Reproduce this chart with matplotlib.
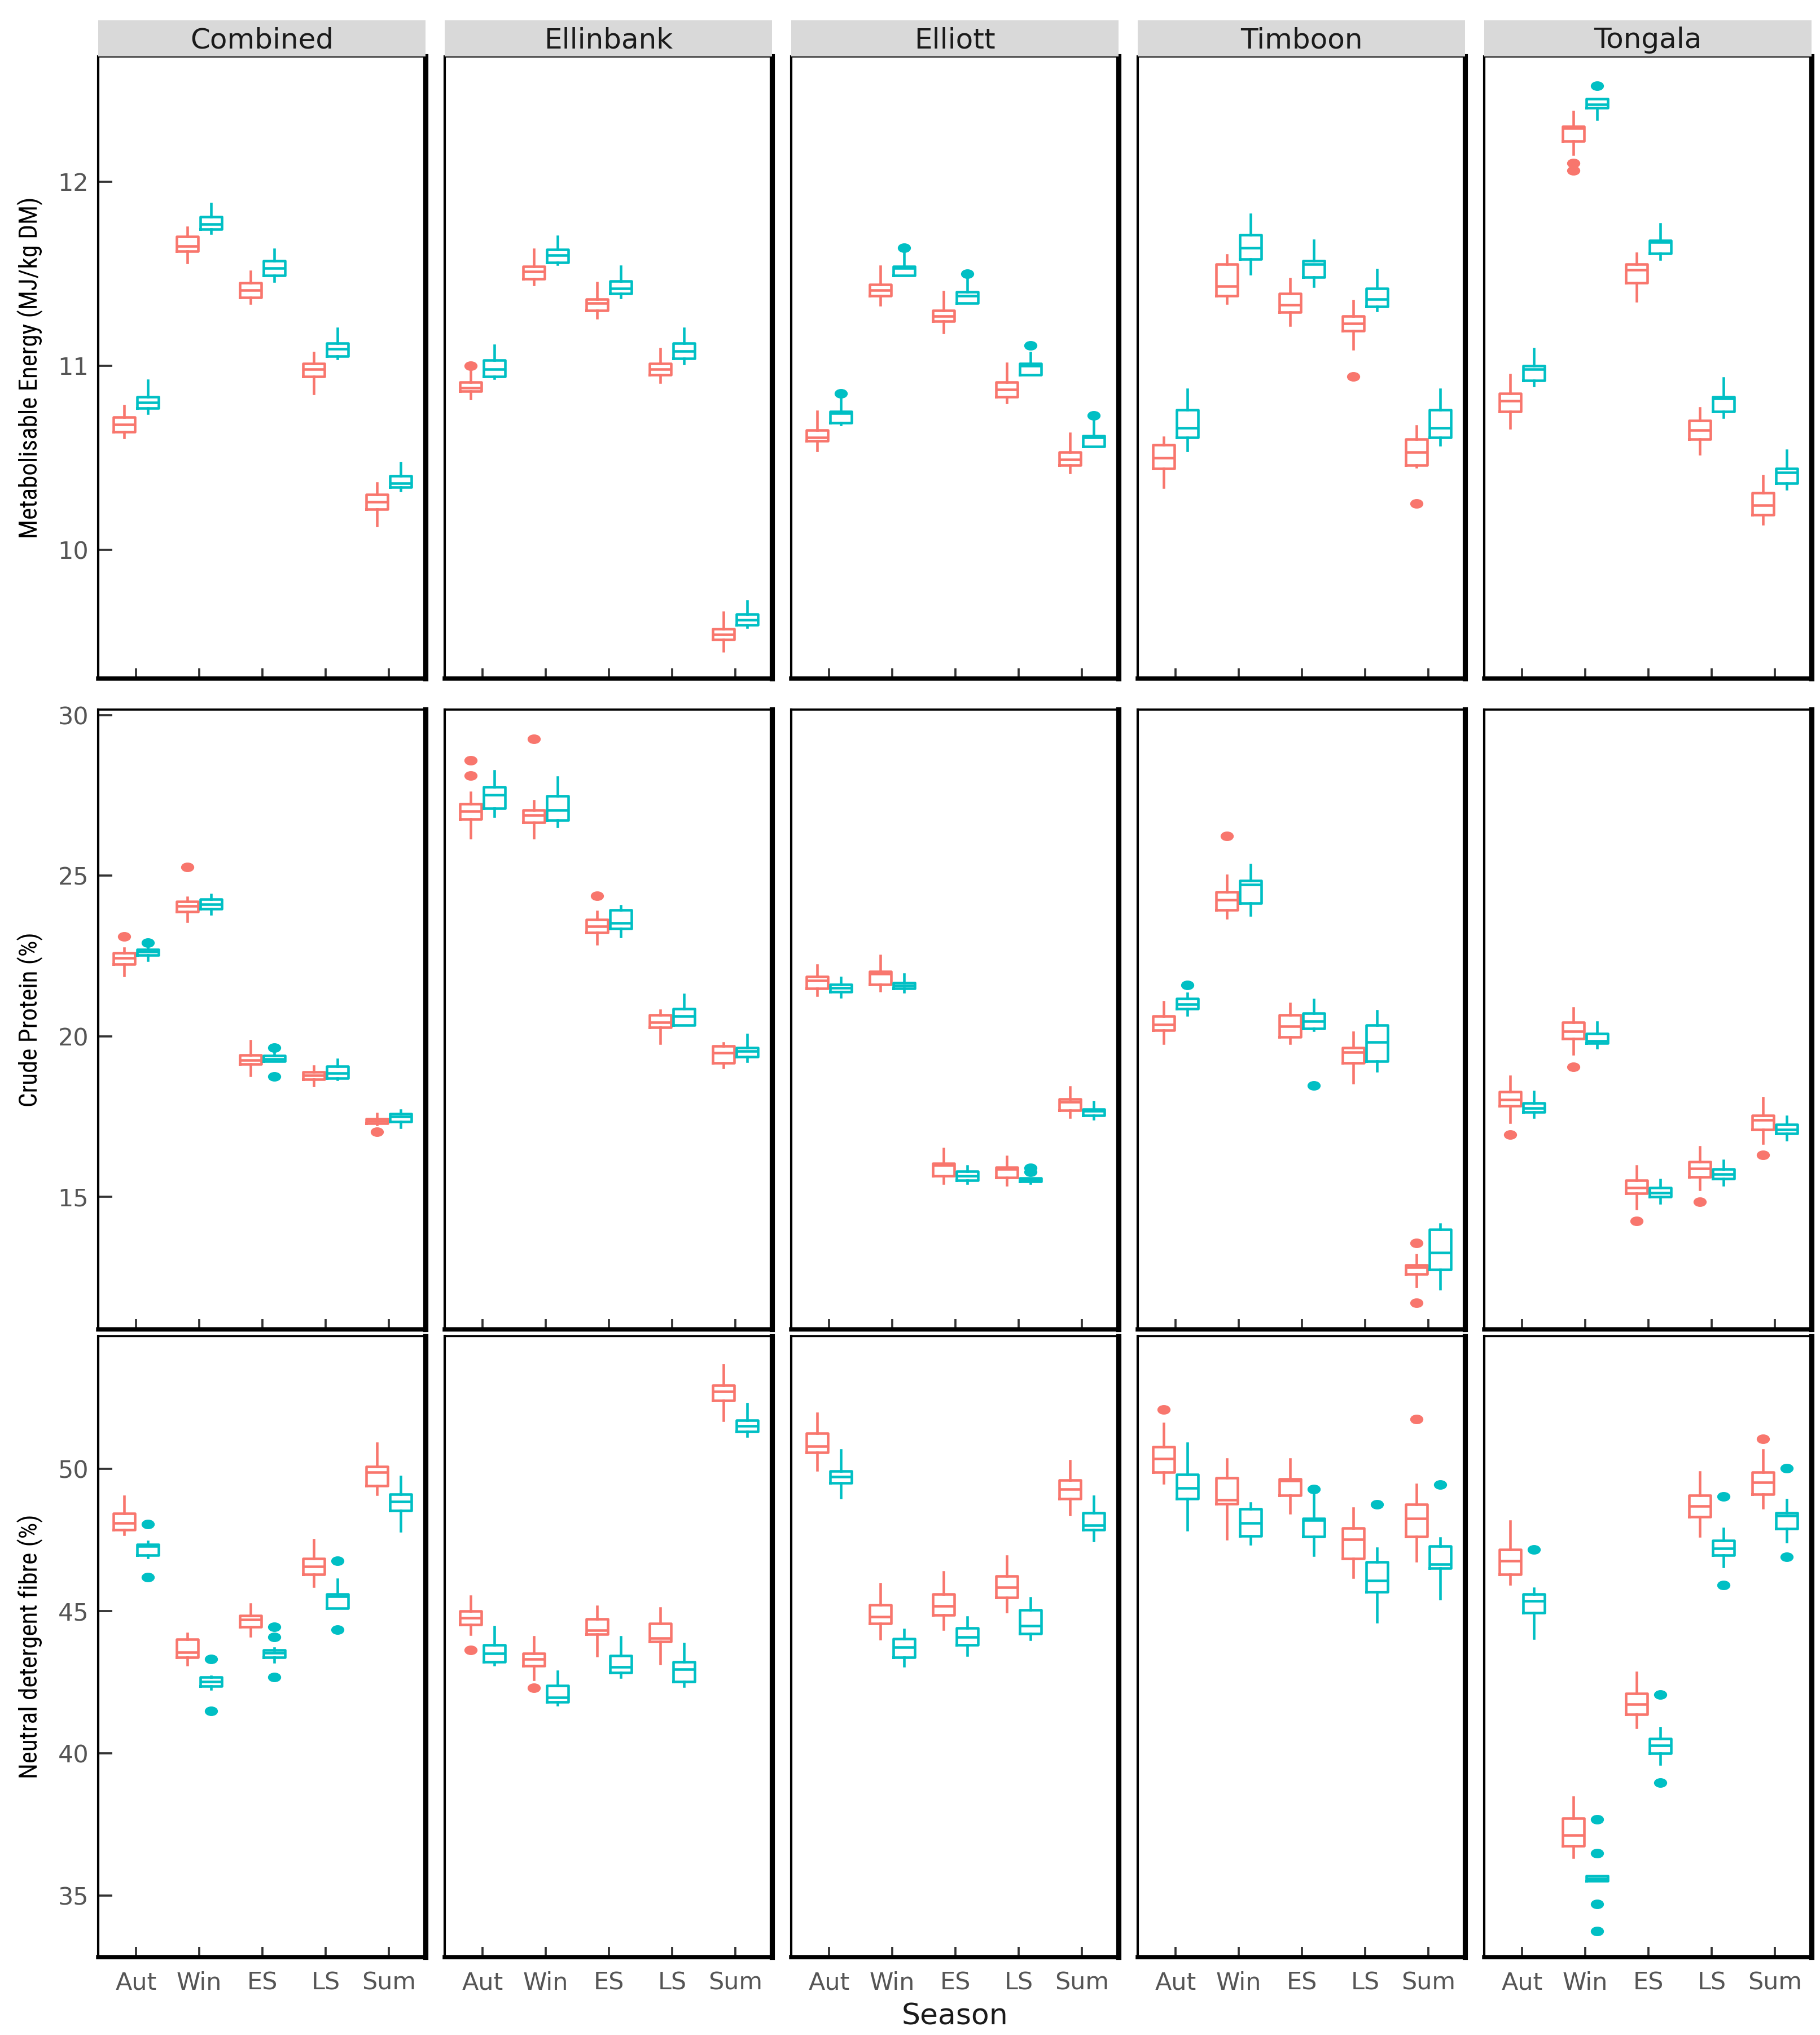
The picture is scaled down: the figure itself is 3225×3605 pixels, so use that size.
import matplotlib
matplotlib.use("Agg")
import matplotlib.pyplot as plt
from matplotlib.path import Path

seasons = ["Aut", "Win", "ES", "LS", "Sum"]
sites = ["Combined", "Ellinbank", "Elliott", "Timboon", "Tongala"]

# each box: [whisker low, q1, median, q3, whisker high]
me_red = [
    [[10.61, 10.64, 10.68, 10.72, 10.78], [11.56, 11.62, 11.65, 11.70, 11.75], [11.34, 11.37, 11.41, 11.45, 11.51], [10.85, 10.94, 10.98, 11.01, 11.07], [10.13, 10.22, 10.26, 10.30, 10.36]],
    [[10.82, 10.86, 10.88, 10.91, 10.98], [11.44, 11.47, 11.51, 11.54, 11.63], [11.26, 11.30, 11.34, 11.36, 11.45], [10.91, 10.95, 10.98, 11.01, 11.09], [9.45, 9.51, 9.54, 9.57, 9.66]],
    [[10.54, 10.59, 10.61, 10.65, 10.75], [11.33, 11.38, 11.41, 11.44, 11.54], [11.18, 11.24, 11.27, 11.30, 11.40], [10.80, 10.83, 10.87, 10.91, 11.01], [10.42, 10.46, 10.49, 10.53, 10.63]],
    [[10.34, 10.44, 10.50, 10.57, 10.61], [11.34, 11.38, 11.43, 11.55, 11.60], [11.22, 11.29, 11.33, 11.39, 11.47], [11.09, 11.19, 11.23, 11.27, 11.35], [10.45, 10.46, 10.53, 10.60, 10.67]],
    [[10.66, 10.75, 10.81, 10.85, 10.95], [12.15, 12.22, 12.29, 12.30, 12.38], [11.35, 11.45, 11.52, 11.55, 11.61], [10.52, 10.60, 10.65, 10.70, 10.77], [10.14, 10.19, 10.24, 10.31, 10.40]],
]
me_blue = [
    [[10.74, 10.77, 10.80, 10.83, 10.92], [11.72, 11.74, 11.77, 11.81, 11.88], [11.46, 11.49, 11.53, 11.57, 11.63], [11.04, 11.05, 11.09, 11.12, 11.20], [10.32, 10.34, 10.36, 10.40, 10.47]],
    [[10.93, 10.94, 10.98, 11.03, 11.11], [11.55, 11.56, 11.60, 11.63, 11.70], [11.37, 11.39, 11.42, 11.46, 11.54], [11.01, 11.04, 11.08, 11.12, 11.20], [9.58, 9.59, 9.62, 9.65, 9.72]],
    [[10.68, 10.69, 10.74, 10.75, 10.82], [11.49, 11.49, 11.53, 11.54, 11.61], [11.34, 11.34, 11.38, 11.40, 11.47], [10.95, 10.95, 11.00, 11.01, 11.07], [10.56, 10.56, 10.61, 10.62, 10.70]],
    [[10.54, 10.61, 10.66, 10.76, 10.87], [11.50, 11.58, 11.64, 11.71, 11.82], [11.43, 11.48, 11.55, 11.57, 11.68], [11.30, 11.32, 11.36, 11.42, 11.52], [10.57, 10.61, 10.66, 10.76, 10.87]],
    [[10.89, 10.92, 10.98, 11.00, 11.09], [12.34, 12.40, 12.42, 12.45, 12.45], [11.58, 11.61, 11.67, 11.68, 11.77], [10.72, 10.75, 10.82, 10.83, 10.93], [10.33, 10.36, 10.42, 10.44, 10.54]],
]
me_red_out = {("Ellinbank", "Aut"): [11.00], ("Timboon", "LS"): [10.94], ("Timboon", "Sum"): [10.25],
              ("Tongala", "Win"): [12.10, 12.06]}
me_blue_out = {("Elliott", "Aut"): [10.85], ("Elliott", "Win"): [11.64], ("Elliott", "ES"): [11.50],
               ("Elliott", "LS"): [11.11], ("Elliott", "Sum"): [10.73], ("Tongala", "Win"): [12.52]}

cp_red = [
    [[21.89, 22.25, 22.44, 22.59, 22.73], [23.58, 23.87, 24.05, 24.19, 24.32], [18.78, 19.13, 19.26, 19.41, 19.86], [18.46, 18.65, 18.79, 18.88, 19.07], [17.26, 17.29, 17.35, 17.43, 17.58]],
    [[26.19, 26.76, 27.01, 27.24, 27.58], [26.19, 26.66, 26.89, 27.04, 27.33], [22.88, 23.22, 23.42, 23.64, 23.87], [19.79, 20.28, 20.43, 20.66, 20.81], [19.03, 19.17, 19.49, 19.70, 19.79]],
    [[21.27, 21.48, 21.74, 21.86, 22.21], [21.42, 21.61, 21.95, 22.02, 22.50], [15.42, 15.66, 15.99, 16.04, 16.50], [15.38, 15.60, 15.87, 15.92, 16.25], [17.48, 17.70, 17.96, 18.05, 18.41]],
    [[19.79, 20.19, 20.36, 20.62, 21.06], [23.68, 23.94, 24.24, 24.50, 25.00], [19.79, 19.98, 20.31, 20.66, 21.01], [18.56, 19.17, 19.51, 19.65, 20.11], [12.20, 12.59, 12.81, 12.87, 13.20]],
    [[17.33, 17.84, 18.03, 18.27, 18.75], [19.45, 19.93, 20.15, 20.43, 20.87], [14.64, 15.10, 15.29, 15.51, 15.95], [15.23, 15.61, 15.89, 16.10, 16.55], [16.68, 17.10, 17.39, 17.54, 18.08]],
]
cp_blue = [
    [[22.37, 22.53, 22.63, 22.70, 22.82], [23.81, 23.97, 24.11, 24.27, 24.41], [19.22, 19.22, 19.30, 19.39, 19.51], [18.65, 18.69, 18.85, 19.07, 19.28], [17.16, 17.34, 17.50, 17.58, 17.70]],
    [[26.85, 27.10, 27.52, 27.76, 28.25], [26.54, 26.72, 27.04, 27.48, 28.06], [23.11, 23.36, 23.52, 23.94, 24.06], [20.34, 20.34, 20.62, 20.85, 21.29], [19.22, 19.37, 19.54, 19.65, 20.05]],
    [[21.23, 21.38, 21.51, 21.61, 21.83], [21.38, 21.48, 21.58, 21.67, 21.93], [15.42, 15.51, 15.66, 15.79, 15.95], [15.42, 15.47, 15.53, 15.58, 15.58], [17.42, 17.54, 17.67, 17.73, 17.96]],
    [[20.66, 20.85, 21.00, 21.17, 21.33], [23.77, 24.15, 24.72, 24.85, 25.33], [20.19, 20.24, 20.47, 20.72, 21.13], [18.92, 19.22, 19.81, 20.34, 20.78], [12.14, 12.74, 13.26, 13.98, 14.14]],
    [[17.48, 17.64, 17.77, 17.92, 18.28], [19.64, 19.79, 19.86, 20.09, 20.44], [14.81, 15.00, 15.13, 15.29, 15.53], [15.38, 15.57, 15.70, 15.86, 16.12], [16.78, 16.97, 17.10, 17.25, 17.50]],
]
cp_red_out = {("Combined", "Aut"): [23.11], ("Combined", "Win"): [25.27], ("Combined", "Sum"): [17.03],
              ("Ellinbank", "Aut"): [28.59, 28.12], ("Ellinbank", "Win"): [29.26], ("Ellinbank", "ES"): [24.37],
              ("Timboon", "Win"): [26.24], ("Timboon", "Sum"): [13.56, 11.70],
              ("Tongala", "Aut"): [16.93], ("Tongala", "Win"): [19.04], ("Tongala", "ES"): [14.24],
              ("Tongala", "LS"): [14.85], ("Tongala", "Sum"): [16.30]}
cp_blue_out = {("Combined", "Aut"): [22.92], ("Combined", "ES"): [19.65, 18.74],
               ("Elliott", "LS"): [15.90, 15.77], ("Timboon", "Aut"): [21.59], ("Timboon", "ES"): [18.46]}

ndf_red = [
    [[47.70, 47.86, 48.10, 48.43, 49.03], [43.11, 43.37, 43.56, 44.00, 44.21], [44.13, 44.44, 44.70, 44.84, 45.23], [45.87, 46.30, 46.56, 46.85, 47.50], [49.11, 49.40, 49.89, 50.08, 50.89]],
    [[44.18, 44.52, 44.76, 45.01, 45.51], [42.59, 43.08, 43.32, 43.51, 44.08], [43.43, 44.18, 44.32, 44.73, 45.15], [43.16, 43.92, 44.05, 44.57, 45.10], [51.72, 52.40, 52.72, 52.94, 53.66]],
    [[49.97, 50.58, 50.79, 51.26, 51.95], [44.02, 44.57, 44.81, 45.22, 45.95], [44.37, 44.86, 45.18, 45.59, 46.37], [44.99, 45.48, 45.83, 46.24, 46.92], [48.39, 48.95, 49.29, 49.61, 50.29]],
    [[49.51, 49.89, 50.37, 50.78, 51.59], [47.54, 48.78, 48.91, 49.68, 50.34], [48.46, 49.08, 49.59, 49.64, 50.34], [46.19, 46.84, 47.52, 47.91, 48.62], [46.77, 47.62, 48.26, 48.75, 49.45]],
    [[45.96, 46.29, 46.77, 47.16, 48.15], [36.35, 36.75, 37.11, 37.72, 38.45], [40.92, 41.37, 41.73, 42.10, 42.83], [47.65, 48.31, 48.70, 49.08, 49.89], [48.64, 49.12, 49.53, 49.89, 50.66]],
]
ndf_blue = [
    [[46.89, 46.97, 47.29, 47.34, 47.45], [42.27, 42.35, 42.51, 42.67, 42.70], [43.21, 43.37, 43.53, 43.64, 43.69], [45.10, 45.10, 45.51, 45.59, 46.11], [47.83, 48.54, 48.86, 49.12, 49.72]],
    [[43.12, 43.21, 43.52, 43.81, 44.45], [41.70, 41.81, 41.97, 42.38, 42.88], [42.67, 42.83, 43.04, 43.43, 44.08], [42.35, 42.51, 42.95, 43.21, 43.85], [51.15, 51.31, 51.51, 51.72, 52.29]],
    [[48.99, 49.51, 49.72, 49.92, 50.66], [43.08, 43.37, 43.72, 44.02, 44.34], [43.45, 43.81, 44.08, 44.41, 44.78], [44.00, 44.21, 44.49, 45.05, 45.46], [47.49, 47.86, 48.02, 48.46, 49.03]],
    [[47.86, 48.96, 49.32, 49.81, 50.89], [47.37, 47.65, 48.10, 48.59, 48.80], [46.97, 47.62, 48.20, 48.26, 49.16], [44.62, 45.67, 46.08, 46.72, 47.21], [45.43, 46.51, 46.64, 47.29, 47.57]],
    [[44.05, 44.94, 45.35, 45.59, 45.80], [35.50, 35.50, 35.58, 35.68, 35.68], [39.62, 39.99, 40.27, 40.51, 40.89], [46.56, 46.97, 47.21, 47.49, 47.89], [47.45, 47.89, 48.35, 48.46, 48.91]],
]
ndf_red_out = {("Ellinbank", "Aut"): [43.64], ("Ellinbank", "Win"): [42.30], ("Timboon", "Aut"): [52.08],
               ("Timboon", "Sum"): [51.75], ("Tongala", "Sum"): [51.05]}
ndf_blue_out = {("Combined", "Aut"): [48.05, 46.19], ("Combined", "Win"): [43.32, 41.49],
                ("Combined", "ES"): [44.45, 44.08, 42.67], ("Combined", "LS"): [46.76, 44.34],
                ("Timboon", "ES"): [49.29], ("Timboon", "LS"): [48.75], ("Timboon", "Sum"): [49.45],
                ("Tongala", "Aut"): [47.16], ("Tongala", "Win"): [37.68, 36.48, 34.69, 33.75],
                ("Tongala", "ES"): [42.07, 38.97], ("Tongala", "LS"): [49.03, 45.91],
                ("Tongala", "Sum"): [50.02, 46.90]}

row_titles = ["Metabolisable Energy (MJ/kg DM)", "Crude Protein (%)", "Neutral detergent fibre (%)"]
row_ticks = [[10, 11, 12], [15, 20, 25, 30], [35, 40, 45, 50]]
row_lims = [(9.30, 12.68), (10.87, 30.17), (32.83, 54.67)]
rows = [(me_red, me_blue, me_red_out, me_blue_out),
        (cp_red, cp_blue, cp_red_out, cp_blue_out),
        (ndf_red, ndf_blue, ndf_red_out, ndf_blue_out)]

RED = "#F8766D"
BLUE = "#00BFC4"
narrow = ["Roboto Condensed", "Liberation Sans Narrow", "Arial Narrow", "Liberation Sans", "DejaVu Sans"]

# fliers in the reference are squashed ovals
circ = Path.unit_circle()
oval = Path(circ.vertices * [1.5, 1.0], circ.codes)

fig = plt.figure(figsize=(10.75, 12.0167), dpi=300)

left0, pitch, pw = 0.05395, 0.1904, 0.1798
row_box = [(0.6666, 0.9723), (0.3467, 0.6513), (0.0383, 0.3434)]

def stats_for(box, out):
    return {"whislo": box[0], "q1": box[1], "med": box[2], "q3": box[3], "whishi": box[4], "fliers": out}

for r in range(3):
    red, blue, red_out, blue_out = rows[r]
    bot, top = row_box[r]
    for c, site in enumerate(sites):
        ax = fig.add_axes([left0 + c * pitch, bot, pw, top - bot])
        for grp, col, off, outs in [(red, RED, -0.1875, red_out), (blue, BLUE, 0.1875, blue_out)]:
            st = [stats_for(grp[c][s], outs.get((site, seasons[s]), [])) for s in range(5)]
            pos = [s + 1 + off for s in range(5)]
            ax.bxp(st, positions=pos, widths=0.34, showcaps=False, patch_artist=False,
                   boxprops=dict(color=col, linewidth=1.1),
                   whiskerprops=dict(color=col, linewidth=1.1),
                   medianprops=dict(color=col, linewidth=1.1),
                   flierprops=dict(marker=oval, markersize=4.6, markerfacecolor=col,
                                   markeredgecolor=col, linestyle="none"))
        ax.set_xlim(0.4, 5.58)
        ax.set_ylim(*row_lims[r])
        ax.set_xticks(range(1, 6))
        if r == 2:
            ax.set_xticklabels(seasons, fontsize=10.3, color="#555555", family="DejaVu Sans")
        else:
            ax.set_xticklabels([])
        ax.tick_params(axis="x", direction="in", length=4.3, width=0.9, color="#333333", pad=6)
        if c == 0:
            ax.set_yticks(row_ticks[r])
            ax.set_yticklabels([str(t) for t in row_ticks[r]], fontsize=10.3, color="#555555",
                               family="DejaVu Sans")
            ax.tick_params(axis="y", direction="in", length=6, width=0.9, color="#333333", pad=4)
        else:
            ax.set_yticks([])
        ax.spines["left"].set_linewidth(1.0)
        ax.spines["top"].set_linewidth(0.9)
        ax.spines["right"].set_linewidth(2.2)
        ax.spines["bottom"].set_linewidth(1.8)

        if r == 0:
            sax = fig.add_axes([left0 + c * pitch, 0.9723, pw, 0.0177])
            sax.set_facecolor("#D9D9D9")
            sax.set_xticks([])
            sax.set_yticks([])
            for sp in sax.spines.values():
                sp.set_visible(False)
            sax.text(0.5, 0.45, site, ha="center", va="center", fontsize=12,
                     color="#1A1A1A", family="DejaVu Sans", transform=sax.transAxes)

    fig.text(0.0168, (bot + top) / 2, row_titles[r], rotation=90, ha="center", va="center",
             fontsize=10.8, family=narrow)

fig.text(left0 + 2 * pitch + pw / 2, 0.0089, "Season", ha="center", va="center",
         fontsize=12.5, family="DejaVu Sans", color="#1A1A1A")

fig.savefig("out.png", dpi=300)
